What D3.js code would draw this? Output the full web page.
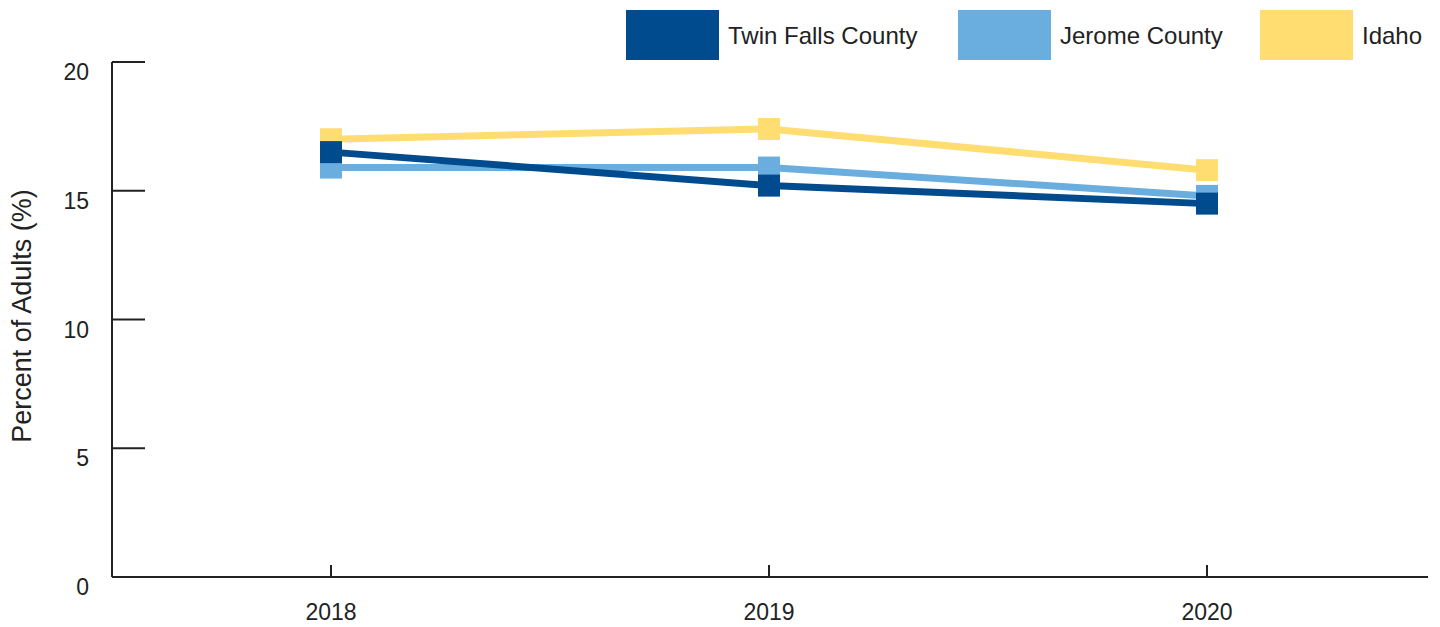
<!DOCTYPE html>
<html>
<head>
<meta charset="utf-8">
<script src="https://cdn.jsdelivr.net/npm/d3@7"></script>
<style>
  html, body { margin: 0; padding: 0; background: #fff; }
  text { font-family: "Liberation Sans", Arial, sans-serif; fill: #222; }
</style>
</head>
<body>
<svg id="chart" width="1440" height="627"></svg>
<script>
const years = ["2018", "2019", "2020"];
const seriesNames = ["Twin Falls County", "Jerome County", "Idaho"];
const twinFalls = [16.5, 15.2, 14.5];
const jerome = [15.9, 15.9, 14.8];
const idaho = [17.0, 17.4, 15.8];
const yTicks = [0, 5, 10, 15, 20];
const colors = ["#004B8D", "#6AADDF", "#FFDD71"];

const svg = d3.select("#chart");
const mLeft = 112, mRight = 1426, mTop = 62, mBottom = 577;

const x = d3.scalePoint().domain(years).range([mLeft, mRight]).padding(0.5);
const y = d3.scaleLinear().domain([0, 20]).range([mBottom, mTop]);

// Y axis
const yAxis = svg.append("g");
yAxis.append("line").attr("x1", mLeft).attr("x2", mLeft).attr("y1", y(20)).attr("y2", y(0))
  .attr("stroke", "#222").attr("stroke-width", 2);
yTicks.forEach(t => {
  yAxis.append("line").attr("x1", mLeft).attr("x2", mLeft + 33).attr("y1", y(t)).attr("y2", y(t))
    .attr("stroke", "#222").attr("stroke-width", 2);
  yAxis.append("text").attr("x", 89).attr("y", y(t) + 10).attr("text-anchor", "end")
    .attr("dominant-baseline", "central").attr("font-size", 23).text(t);
});

// X axis
const xAxis = svg.append("g");
xAxis.append("line").attr("x1", mLeft).attr("x2", 1428).attr("y1", mBottom).attr("y2", mBottom)
  .attr("stroke", "#222").attr("stroke-width", 2);
years.forEach(yr => {
  xAxis.append("line").attr("x1", x(yr)).attr("x2", x(yr)).attr("y1", mBottom).attr("y2", mBottom - 12)
    .attr("stroke", "#222").attr("stroke-width", 2);
  xAxis.append("text").attr("x", x(yr)).attr("y", 612).attr("text-anchor", "middle")
    .attr("dominant-baseline", "central").attr("font-size", 23).text(yr);
});

// Y axis title
svg.append("text").attr("transform", `translate(22,316) rotate(-90)`)
  .attr("text-anchor", "middle").attr("dominant-baseline", "central")
  .attr("font-size", 27).text("Percent of Adults (%)");

// Series (Idaho first, Twin Falls on top)
const data = [twinFalls, jerome, idaho];
const line = d3.line().x((d, i) => x(years[i])).y(d => y(d));
[2, 1, 0].forEach(s => {
  const g = svg.append("g");
  g.append("path").datum(data[s]).attr("d", line).attr("fill", "none")
    .attr("stroke", colors[s]).attr("stroke-width", 7);
  g.selectAll("rect").data(data[s]).enter().append("rect")
    .attr("x", (d, i) => x(years[i]) - 11).attr("y", d => y(d) - 11)
    .attr("width", 22).attr("height", 22).attr("fill", colors[s]);
});

// Legend
const legendX = [626, 958, 1260];
seriesNames.forEach((n, i) => {
  svg.append("rect").attr("x", legendX[i]).attr("y", 10).attr("width", 93).attr("height", 50)
    .attr("fill", colors[i]);
  svg.append("text").attr("x", legendX[i] + 102).attr("y", 35).attr("dominant-baseline", "central")
    .attr("font-size", 24).text(n);
});
</script>
</body>
</html>
